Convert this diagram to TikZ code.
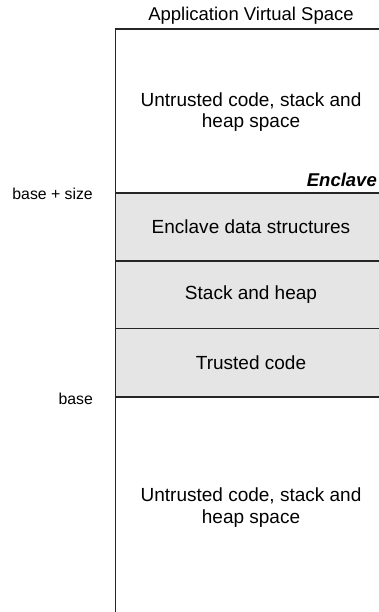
\documentclass[tikz,border=0pt]{standalone}
\usepackage{fontspec}
\setmainfont{Liberation Sans}
\begin{document}
\begin{tikzpicture}[x=1pt,y=-1pt,
  lbl/.style={font=\fontsize{19}{21.5}\selectfont, inner sep=0pt, align=center},
  side/.style={font=\fontsize{15.8}{19}\selectfont, inner sep=0pt, anchor=east},
  region/.style={draw=black!85, line width=1.3pt},
  enc/.style={region, fill=black!10}]
\useasboundingbox (0,0) rectangle (378,612);
% outer application space
\draw[region, fill=white] (115.5,29) rectangle (386.5,630);
% enclave blocks
\draw[enc] (115.5,193) rectangle (386.5,261) node[midway, lbl] (eds) {Enclave data structures};
\draw[enc] (115.5,261) rectangle (386.5,328.5) node[midway, lbl] (sh) {Stack and heap};
\draw[enc] (115.5,328.5) rectangle (386.5,397) node[midway, lbl] (tc) {Trusted code};
% texts
\node[lbl, font=\fontsize{18.5}{21}\selectfont] (title) at (251,15.5) {Application Virtual Space};
\node[lbl] (ut1) at (251,112) {Untrusted code, stack and\\heap space};
\node[lbl] (ut2) at (251,507.5) {Untrusted code, stack and\\heap space};
\node[lbl, anchor=east, font=\fontsize{18.5}{22}\selectfont\bfseries\itshape] (encl) at (377,180) {Enclave};
\node[side] (bs) at (93,194) {base + size};
\node[side] (b) at (93,398.5) {base};
\end{tikzpicture}
\end{document}
